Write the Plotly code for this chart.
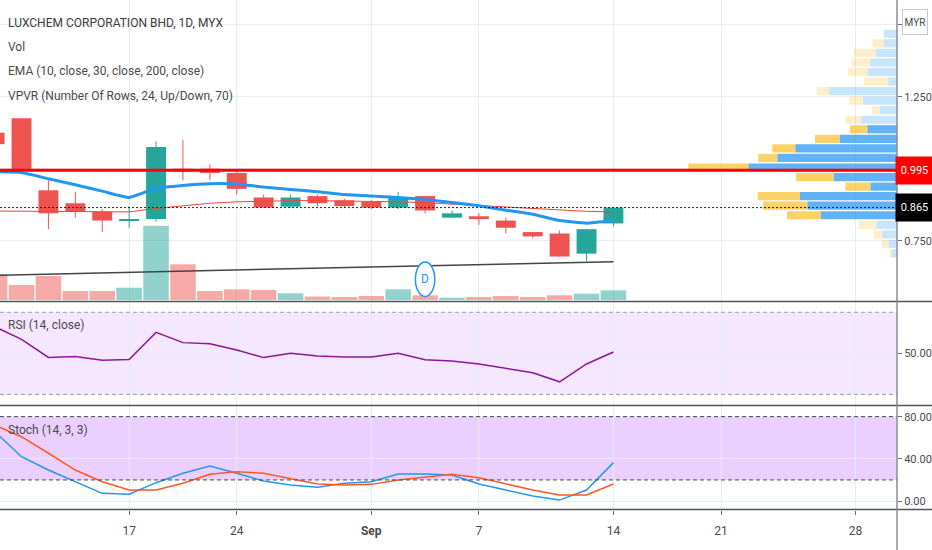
import plotly.graph_objects as go

# Bursa sessions shown on the chart (20 Aug, 31 Aug and 16 Sep 2020 are holidays)
sessions = ["2020-08-10", "2020-08-11", "2020-08-12", "2020-08-13", "2020-08-14",
            "2020-08-17", "2020-08-18", "2020-08-19", "2020-08-21", "2020-08-24",
            "2020-08-25", "2020-08-26", "2020-08-27", "2020-08-28", "2020-09-01",
            "2020-09-02", "2020-09-03", "2020-09-04", "2020-09-07", "2020-09-08",
            "2020-09-09", "2020-09-10", "2020-09-11", "2020-09-14", "2020-09-15",
            "2020-09-17", "2020-09-18", "2020-09-21", "2020-09-22", "2020-09-23",
            "2020-09-24", "2020-09-25", "2020-09-28"]

opens = [1.125, 1.175, 0.925, 0.880, 0.850, 0.820, 0.825, 1.000, 1.000, 0.985, 0.900, 0.868,
         0.905, 0.890, 0.885, 0.865, 0.905, 0.830, 0.835, 0.820, 0.780, 0.775, 0.705, 0.810]
highs = [1.125, 1.175, 0.960, 0.920, 0.860, 0.870, 1.095, 1.100, 1.015, 0.990, 0.910, 0.910,
         0.910, 0.895, 0.890, 0.920, 0.905, 0.855, 0.845, 0.830, 0.780, 0.785, 0.790, 0.865]
lows = [1.085, 0.995, 0.790, 0.830, 0.780, 0.795, 0.815, 0.960, 0.960, 0.910, 0.865, 0.865,
        0.870, 0.865, 0.860, 0.860, 0.845, 0.830, 0.805, 0.775, 0.760, 0.695, 0.680, 0.800]
closes = [1.085, 0.995, 0.845, 0.850, 0.820, 0.825, 1.075, 0.990, 0.985, 0.930, 0.865, 0.900,
          0.880, 0.870, 0.865, 0.900, 0.855, 0.845, 0.825, 0.795, 0.765, 0.695, 0.790, 0.865]
volumes = [257, 150, 240, 90, 90, 123, 743, 357, 90, 107, 100, 67,
           35, 30, 40, 107, 47, 23, 30, 40, 30, 47, 63, 97]  # '0000 shares

ema10 = [0.990, 0.987, 0.965, 0.944, 0.922, 0.900, 0.932, 0.942, 0.948, 0.947, 0.936, 0.928,
         0.920, 0.910, 0.905, 0.900, 0.893, 0.883, 0.871, 0.856, 0.842, 0.820, 0.811, 0.820]
ema30 = [0.853, 0.852, 0.851, 0.850, 0.849, 0.850, 0.862, 0.872, 0.880, 0.885, 0.888, 0.889,
         0.889, 0.888, 0.887, 0.885, 0.882, 0.877, 0.872, 0.866, 0.861, 0.857, 0.852, 0.850]
ema200 = [0.630, 0.632, 0.634, 0.636, 0.638, 0.640, 0.642, 0.644, 0.646, 0.648, 0.650, 0.652,
          0.654, 0.657, 0.659, 0.661, 0.663, 0.665, 0.667, 0.669, 0.671, 0.673, 0.675, 0.677]

rsi = [63.0, 56.8, 48.0, 48.4, 46.6, 47.0, 60.2, 55.2, 54.7, 51.6, 47.9, 50.0,
       48.7, 48.2, 48.2, 50.0, 46.9, 46.2, 44.8, 42.7, 40.5, 36.1, 44.8, 50.6]
stoch_k = [66.0, 42.0, 29.4, 18.3, 7.3, 6.4, 17.4, 26.3, 33.2, 26.3, 19.0, 15.2,
           13.0, 16.8, 18.3, 25.6, 25.6, 24.7, 16.1, 10.4, 4.7, 0.9, 10.4, 36.4]
stoch_d = [72.0, 61.0, 45.3, 29.4, 18.3, 10.4, 10.4, 16.8, 25.3, 27.8, 26.3, 20.9,
           16.1, 15.2, 15.8, 19.9, 22.8, 25.3, 22.1, 16.1, 10.4, 5.7, 5.7, 16.1]

# volume profile visible range, 24 rows (bottom to top)
vpvr_levels = [0.7056, 0.7388, 0.7719, 0.8051, 0.8383, 0.8715, 0.9046, 0.9378, 0.9710, 1.0041,
               1.0373, 1.0705, 1.1037, 1.1368, 1.1700, 1.2032, 1.2364, 1.2695, 1.3027, 1.3359,
               1.3690, 1.4022, 1.4354, 1.4685]
vpvr_up = [16, 25, 44, 62, 228, 269, 292, 80, 190, 446, 359, 305, 172, 89, 108, 52,
           102, 203, 26, 88, 80, 64, 40, 40]
vpvr_down = [6, 21, 26, 53, 102, 133, 126, 75, 113, 180, 57, 69, 74, 52, 47, 24,
             42, 38, 74, 58, 56, 66, 34, 0]
value_area_rows = (4, 13)

tick_dates = ["2020-08-17", "2020-08-24", "2020-09-01", "2020-09-07", "2020-09-14", "2020-09-21", "2020-09-28"]
tick_labels = ["17", "24", "<b>Sep</b>", "7", "14", "21", "28"]

hline_price = 0.995
dividend_date = "2020-09-03"

# ---------------------------------------------------------------------------
FONT = "Roboto, Liberation Sans, sans-serif"
TXT = "#4a4a4a"
GRID = "#e6edf3"
UP, DOWN = "#26a69a", "#ef5350"

W, H = 932, 550
PH = 510  # plot height in px (bottom margin 40)
PW = 897  # plot width in px (right margin for the price scale)


def ydom(top, bot):
    return [1 - bot / PH, 1 - top / PH]


xs = list(range(len(closes)))
tick_pos = [sessions.index(d) for d in tick_dates]
x_range = [0.2, 33.54]
last_price = closes[-1]

fig = go.Figure()

# volume on the base axis of the main pane
vol_colors = ["rgba(38,166,154,0.5)" if c >= o else "rgba(239,83,80,0.5)" for o, c in zip(opens, closes)]
fig.add_trace(go.Bar(x=xs, y=volumes, width=0.95, marker_color=vol_colors, marker_line_width=0,
                     xaxis="x", yaxis="y", hoverinfo="skip"))

# EMAs
fig.add_trace(go.Scatter(x=xs, y=ema200, mode="lines", line=dict(color="#444444", width=1.5),
                         xaxis="x", yaxis="y2"))
fig.add_trace(go.Scatter(x=xs, y=ema30, mode="lines", line=dict(color="#f44336", width=1),
                         xaxis="x", yaxis="y2"))
fig.add_trace(go.Scatter(x=xs, y=ema10, mode="lines", line=dict(color="#2196f3", width=3, shape="spline", smoothing=0.4),
                         xaxis="x", yaxis="y2"))

# candles: wicks then bodies
for is_up, col in [(True, UP), (False, DOWN)]:
    wx, wy = [], []
    for i in xs:
        if (closes[i] >= opens[i]) == is_up:
            wx += [i, i, None]
            wy += [lows[i], highs[i], None]
    fig.add_trace(go.Scatter(x=wx, y=wy, mode="lines", line=dict(color=col, width=1),
                             xaxis="x", yaxis="y2", hoverinfo="skip"))

body_base = [min(o, c) for o, c in zip(opens, closes)]
body_len = [max(abs(c - o), 0.004) for o, c in zip(opens, closes)]
body_col = [UP if c >= o else DOWN for o, c in zip(opens, closes)]
fig.add_trace(go.Bar(x=xs, y=body_len, base=body_base, width=0.74, marker_color=body_col,
                     marker_line_width=0, xaxis="x", yaxis="y2"))

# volume profile (grows from the price scale to the left)
lo, hi = value_area_rows
in_va = [lo <= k <= hi for k in range(len(vpvr_levels))]
up_col = ["rgba(33,150,243,0.72)" if v else "rgba(33,150,243,0.25)" for v in in_va]
dn_col = ["rgba(251,192,45,0.72)" if v else "rgba(251,192,45,0.25)" for v in in_va]
fig.add_trace(go.Bar(y=vpvr_levels, x=vpvr_up, orientation="h", width=0.0285,
                     marker_color=up_col, marker_line_width=0, xaxis="x2", yaxis="y2"))
fig.add_trace(go.Bar(y=vpvr_levels, x=vpvr_down, base=vpvr_up, orientation="h", width=0.0285,
                     marker_color=dn_col, marker_line_width=0, xaxis="x2", yaxis="y2"))

# RSI pane
fig.add_trace(go.Scatter(x=xs, y=rsi, mode="lines", line=dict(color="#8e1599", width=1.5),
                         xaxis="x3", yaxis="y3"))
# Stoch pane
fig.add_trace(go.Scatter(x=xs, y=stoch_k, mode="lines", line=dict(color="#2196f3", width=1.5),
                         xaxis="x4", yaxis="y4"))
fig.add_trace(go.Scatter(x=xs, y=stoch_d, mode="lines", line=dict(color="#ff5722", width=1.5),
                         xaxis="x4", yaxis="y4"))

xcommon = dict(range=x_range, tickvals=tick_pos, ticktext=tick_labels, showgrid=True,
               gridcolor=GRID, gridwidth=1, zeroline=False, showline=False, automargin=False)
ycommon = dict(side="right", showgrid=True, gridcolor=GRID, zeroline=False, showline=False,
               ticks="outside", ticklen=4, tickcolor="#6a6d78", automargin=False,
               tickfont=dict(family=FONT, size=11, color=TXT))

main_dom = ydom(0, 301)
fig.update_layout(
    width=W, height=H, template="none", showlegend=False, barmode="overlay",
    margin=dict(l=0, r=W - PW, t=0, b=H - PH),
    paper_bgcolor="white", plot_bgcolor="white",
    font=dict(family=FONT, color=TXT, size=12),
    xaxis=dict(anchor="y", showticklabels=False, ticks="", **xcommon),
    xaxis2=dict(overlaying="x", anchor="y", range=[PW * 3, 0], visible=False),
    xaxis3=dict(anchor="y3", showticklabels=False, ticks="", **xcommon),
    xaxis4=dict(anchor="y4", showticklabels=True, ticks="outside", ticklen=4, tickcolor="#6a6d78",
                ticklabelstandoff=6, tickfont=dict(family=FONT, size=12, color=TXT), **xcommon),
    # volume: 1 px of the pane per 10 units, baseline 1 px above the pane bottom
    yaxis=dict(domain=main_dom, anchor="x", range=[-10, 3000], visible=False, showgrid=False),
    yaxis2=dict(overlaying="y", anchor="x", range=[0.5406, 1.5858],
                tickvals=[0.75, 1.0, 1.25, 1.5], ticktext=["0.750", "", "1.250", ""], **ycommon),
    yaxis3=dict(domain=ydom(302, 405), anchor="x3", range=[24.8, 75.0],
                tickvals=[50], ticktext=["50.00"], **ycommon),
    yaxis4=dict(domain=ydom(406, PH), anchor="x4", range=[-8.5, 90.1],
                tickvals=[0, 40, 80], ticktext=["0.00", "40.00", "80.00"], **ycommon),
)

shapes = []
# indicator bands
shapes.append(dict(type="rect", xref="x3 domain", yref="y3", x0=0, x1=1, y0=30, y1=70,
                   fillcolor="rgba(153,21,255,0.1)", line_width=0, layer="below"))
shapes.append(dict(type="rect", xref="x4 domain", yref="y4", x0=0, x1=1, y0=20, y1=80,
                   fillcolor="rgba(153,21,255,0.2)", line_width=0, layer="below"))
for lvl in (30, 70):
    shapes.append(dict(type="line", xref="x3 domain", yref="y3", x0=0, x1=1, y0=lvl, y1=lvl,
                       line=dict(color="#9a9aa4", width=1, dash="4px,3px")))
for lvl in (20, 80):
    shapes.append(dict(type="line", xref="x4 domain", yref="y4", x0=0, x1=1, y0=lvl, y1=lvl,
                       line=dict(color="#444444", width=1, dash="4px,3px")))

# horizontal line drawn by the user and last price line
shapes.append(dict(type="line", xref="x domain", yref="y2", x0=0, x1=1, y0=hline_price, y1=hline_price,
                   line=dict(color="#ff0000", width=3), layer="above"))
shapes.append(dict(type="line", xref="x domain", yref="y2", x0=0, x1=1, y0=last_price, y1=last_price,
                   line=dict(color="#222222", width=1, dash="2px,2px"), layer="above"))

# pane separators, bottom axis line and price scale border
for py in (301.5, 405.5, PH - 0.5):
    shapes.append(dict(type="line", xref="paper", yref="paper", x0=0, x1=W / PW, y0=1 - py / PH, y1=1 - py / PH,
                       line=dict(color="#50535e", width=1.5)))
shapes.append(dict(type="line", xref="paper", yref="paper", x0=1, x1=1, y0=-(H - PH) / PH, y1=1,
                   line=dict(color="#8a8d96", width=1.5)))

# dividend marker
div_x = sessions.index(dividend_date)
shapes.append(dict(type="circle", xref="x", yref="paper", x0=div_x - 0.36, x1=div_x + 0.36,
                   y0=1 - 296.5 / PH, y1=1 - 262 / PH, fillcolor="white",
                   line=dict(color="#2196f3", width=1.5), layer="above"))
fig.update_layout(shapes=shapes)

ann = []
legend_lines = [("LUXCHEM CORPORATION BHD, 1D, MYX", 23, "#3b3b3b"),
                ("Vol", 47, TXT),
                ("EMA (10, close, 30, close, 200, close)", 71, TXT),
                ("VPVR (Number Of Rows, 24, Up/Down, 70)", 96, TXT),
                ("RSI (14, close)", 325, TXT),
                ("Stoch (14, 3, 3)", 430, TXT)]
for text, py, col in legend_lines:
    ann.append(dict(text=text, xref="paper", yref="paper", x=6 / PW, y=1 - py / PH,
                    xanchor="left", yanchor="middle", showarrow=False,
                    font=dict(family=FONT, size=12, color=col)))

ann.append(dict(text="D", xref="x", yref="paper", x=div_x, y=1 - 279 / PH, showarrow=False,
                xanchor="center", yanchor="middle",
                font=dict(family=FONT, size=12, color="#2196f3")))

# price scale labels
xc = (PW + W) / 2 / PW
ann.append(dict(text="MYR", xref="paper", yref="paper", x=xc, y=1 - 22 / PH, showarrow=False,
                xanchor="center", yanchor="middle",
                width=24, height=24, borderpad=0, bordercolor="#c5cbd0", borderwidth=1, bgcolor="white",
                font=dict(family=FONT, size=10, color=TXT)))
ann.append(dict(text="0.995", xref="paper", yref="y2", x=xc, y=hline_price, showarrow=False,
                xanchor="center", yanchor="middle",
                width=W - PW, height=25, bgcolor="#ff0000", font=dict(family=FONT, size=11, color="white")))
ann.append(dict(text=f"{last_price:.3f}", xref="paper", yref="y2", x=xc, y=last_price, showarrow=False,
                xanchor="center", yanchor="middle",
                width=W - PW, height=25, bgcolor="#000000", font=dict(family=FONT, size=11, color="white")))
fig.update_layout(annotations=ann)

fig.write_html("out.html", config={"displayModeBar": False},
               post_script="document.body.style.margin='0';")
